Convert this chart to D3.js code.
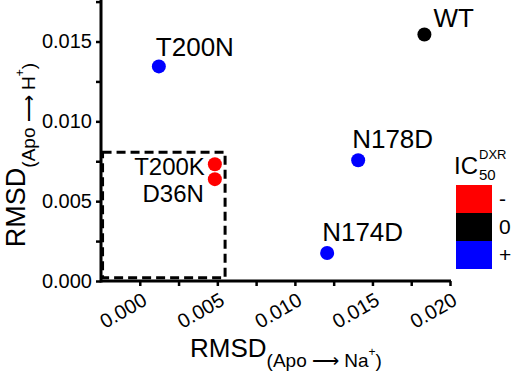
<!DOCTYPE html>
<html><head><meta charset="utf-8">
<script src="https://cdn.jsdelivr.net/npm/d3@7"></script>
<style>
body{margin:0;background:#fff;}
text{font-family:Arial,"Liberation Sans",sans-serif;fill:#000;}
</style></head>
<body><svg id="c" width="514" height="374"></svg>
<script>
const names = ["WT","T200N","N178D","N174D","T200K","D36N"];
const xVals = [0.01835,0.00123,0.01408,0.01208,0.00484,0.00484];
const yVals = [0.01544,0.01344,0.00756,0.00175,0.00731,0.00638];
const groups = ["0","+","+","+","-","-"];
const xTicks = [0.000,0.005,0.010,0.015,0.020];
const yTicks = [0.000,0.005,0.010,0.015];
const legendLabels = ["-","0","+"];
const legendColors = ["#ff0000","#000000","#0000ff"];
const boxX = [-0.0024,0.0055];
const boxY = [0.0002,0.00806];

const svg = d3.select("#c");
const x = d3.scaleLinear().domain([-0.0025,0.020]).range([101,450]);
const y = d3.scaleLinear().domain([0,0.0176]).range([281,0]);
const color = d3.scaleOrdinal().domain(legendLabels).range(legendColors);

// dashed box
svg.append("rect")
  .attr("x",x(boxX[0])).attr("y",y(boxY[1]))
  .attr("width",x(boxX[1])-x(boxX[0])).attr("height",y(boxY[0])-y(boxY[1]))
  .attr("fill","none").attr("stroke","#000").attr("stroke-width",3)
  .attr("stroke-dasharray","9,5");

// axes
const xAxis = d3.axisBottom(x).tickValues(xTicks).tickSize(5).tickFormat(d3.format(".3f"));
const gx = svg.append("g").attr("transform","translate(0,281)").call(xAxis);
gx.select(".domain").attr("stroke-width",3).attr("d","M101,0H451");
gx.selectAll(".tick line").attr("stroke-width",2.5);
gx.selectAll(".tick text").attr("font-size",20).attr("text-anchor","end")
  .attr("y",0).attr("dy",0)
  .attr("transform","translate(8,23) rotate(-30)");
const xMinor = d3.axisBottom(x).tickValues([0.0025,0.0075,0.0125,0.0175]).tickSize(5).tickFormat("");
const gxm = svg.append("g").attr("transform","translate(0,281)").call(xMinor);
gxm.select(".domain").remove();
gxm.selectAll(".tick line").attr("stroke-width",2.5);

const yAxis = d3.axisLeft(y).tickValues(yTicks).tickSize(5).tickFormat(d3.format(".3f"));
const gy = svg.append("g").attr("transform","translate(101,0)").call(yAxis);
gy.select(".domain").attr("stroke-width",3).attr("d","M0,282.5V0");
gy.selectAll(".tick line").attr("stroke-width",2.5);
gy.selectAll(".tick text").attr("font-size",20).attr("x",-9);
const yMinor = d3.axisLeft(y).tickValues([0.0025,0.0075,0.0125,0.0175]).tickSize(5).tickFormat("");
const gym = svg.append("g").attr("transform","translate(101,0)").call(yMinor);
gym.select(".domain").remove();
gym.selectAll(".tick line").attr("stroke-width",2.5);

// points
const data = names.map((n,i)=>({n, x:xVals[i], y:yVals[i], g:groups[i]}));
svg.selectAll("circle.pt").data(data).enter().append("circle")
  .attr("class","pt").attr("cx",d=>x(d.x)).attr("cy",d=>y(d.y)).attr("r",7)
  .attr("fill",d=>color(d.g));

// labels
const lab = {WT:[9,-7,"start",26],T200N:[-3,-10,"start",26],N178D:[-6,-12,"start",26],N174D:[-5,-12,"start",26],T200K:[-10,11,"end",24],D36N:[-11,23,"end",24]};
svg.selectAll("text.lbl").data(data).enter().append("text")
  .attr("class","lbl").attr("font-size",d=>lab[d.n][3])
  .attr("x",d=>x(d.x)+lab[d.n][0]).attr("y",d=>y(d.y)+lab[d.n][1])
  .attr("text-anchor",d=>lab[d.n][2]).text(d=>d.n);

// axis titles
const xt = svg.append("text").attr("x",286).attr("y",357).attr("text-anchor","middle");
xt.append("tspan").attr("font-size",26).text("RMSD");
xt.append("tspan").attr("font-size",19).attr("dy",10).text("(Apo \u27F6 Na");
xt.append("tspan").attr("font-size",12).attr("dy",-11).text("+");
xt.append("tspan").attr("font-size",19).attr("dy",11).text(")");

const yt = svg.append("text").attr("transform","translate(25,155) rotate(-90)").attr("text-anchor","middle");
yt.append("tspan").attr("font-size",27).text("RMSD");
yt.append("tspan").attr("font-size",19).attr("dy",10).text("(Apo \u27F6 H");
yt.append("tspan").attr("font-size",12).attr("dy",-11).text("+");
yt.append("tspan").attr("font-size",19).attr("dy",11).text(")");

// legend
const lg = svg.append("g");
lg.selectAll("rect").data(legendLabels).enter().append("rect")
  .attr("x",456).attr("y",(d,i)=>185+i*28).attr("width",36).attr("height",28)
  .attr("fill",d=>color(d));
lg.selectAll("text.ll").data(legendLabels).enter().append("text")
  .attr("class","ll").attr("x",499).attr("y",(d,i)=>185+i*28+21)
  .attr("font-size",21).text(d=>d);
lg.append("text").attr("x",454).attr("y",174).attr("font-size",24).text("IC");
lg.append("text").attr("x",479).attr("y",180).attr("font-size",15).text("50");
lg.append("text").attr("x",479).attr("y",159).attr("font-size",13).text("DXR");
</script></body></html>
